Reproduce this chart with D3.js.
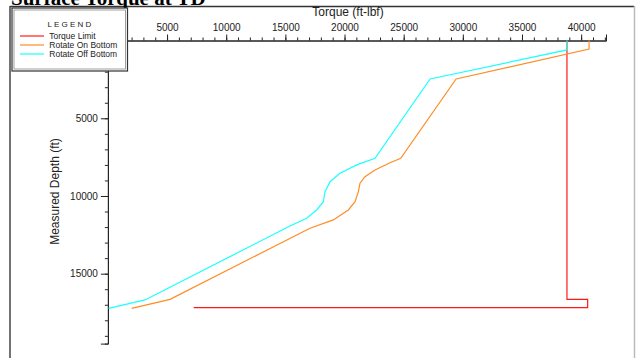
<!DOCTYPE html>
<html>
<head>
<meta charset="utf-8">
<title>Surface Torque at TD</title>
<style>
  body { margin: 0; background: #fff; }
  svg { display: block; font-family: "Liberation Sans", Arial, sans-serif; }
  .line { fill: none; stroke-width: 1.2px; }
</style>
</head>
<body>
<svg width="636" height="358"></svg>
<script src="https://d3js.org/d3.v7.min.js"></script>
<script>
// torque (ft-lbf) vs measured depth (ft)
var limitTorque = [38800, 38800, 40550, 40550, 7250];
var limitDepth  = [0, 16650, 16650, 17190, 17190];

var onTorque = [40670, 40670, 29430, 24750, 23850, 22580, 21730, 21310, 21170, 20890, 20320, 19050, 17080, 5250, 2010];
var onDepth  = [0, 540, 2470, 7570, 7860, 8330, 8760, 9180, 9720, 10370, 10900, 11540, 12080, 16650, 17230];

var offTorque = [38800, 38800, 27230, 22580, 21030, 19620, 18780, 18350, 18210, 17650, 16800, 15390, 3140, 50];
var offDepth  = [0, 600, 2470, 7570, 8000, 8540, 9080, 9720, 10370, 10900, 11430, 11930, 16690, 17230];

var xTicks = [5000, 10000, 15000, 20000, 25000, 30000, 35000, 40000];
var yTicks = [5000, 10000, 15000];
var series = [
  { name: "Torque Limit", color: "#ff1a1a", x: limitTorque, y: limitDepth },
  { name: "Rotate On Bottom", color: "#ff8c26", x: onTorque, y: onDepth },
  { name: "Rotate Off Bottom", color: "#1affff", x: offTorque, y: offDepth }
];

var svg = d3.select("svg");
var x = d3.scaleLinear().domain([0, 42100]).range([107.9, 606]);
var y = d3.scaleLinear().domain([0, 19500]).range([40.6, 343.6]);

// frame
svg.append("line").attr("x1", 10).attr("x2", 634).attr("y1", 6.5).attr("y2", 6.5)
  .attr("stroke", "#333").attr("stroke-width", 1.5);
svg.append("line").attr("x1", 10).attr("x2", 10).attr("y1", 6).attr("y2", 358)
  .attr("stroke", "#444").attr("stroke-width", 1.5);
svg.append("line").attr("x1", 634.5).attr("x2", 634.5).attr("y1", 6).attr("y2", 358)
  .attr("stroke", "#bbb").attr("stroke-width", 1.5);

// title
svg.append("text").attr("x", 11).attr("y", 5)
  .attr("font-family", "'Liberation Serif', 'Times New Roman', serif")
  .attr("font-weight", "bold").attr("font-size", "21px")
  .text("Surface Torque at TD");

// x axis on top
var xAxis = d3.axisTop(x).tickValues(d3.range(0, 42001, 1000))
  .tickSize(3).tickFormat("");
svg.append("g").attr("transform", "translate(0,40.5)").call(xAxis);
var xMajor = d3.axisTop(x).tickValues(xTicks).tickSize(6).tickPadding(4)
  .tickFormat(d3.format("d"));
var gx = svg.append("g").attr("transform", "translate(0,40.5)").call(xMajor);
gx.selectAll("text").attr("font-size", "10px").attr("fill", "#222")
  .attr("font-family", "'Liberation Sans', Arial, sans-serif");

// y axis on left
var yAxis = d3.axisLeft(y).tickValues(d3.range(0, 19001, 1000))
  .tickSize(3).tickFormat("");
svg.append("g").attr("transform", "translate(107.9,0)").call(yAxis);
var yMajor = d3.axisLeft(y).tickValues(yTicks).tickSize(7).tickPadding(3)
  .tickFormat(d3.format("d"));
var gy = svg.append("g").attr("transform", "translate(107.9,0)").call(yMajor);
gy.selectAll("text").attr("font-size", "10px").attr("fill", "#222")
  .attr("font-family", "'Liberation Sans', Arial, sans-serif");

svg.selectAll(".domain").attr("stroke", "#222");
svg.selectAll(".tick line").attr("stroke", "#222");

// axis titles
svg.append("text").attr("x", 348).attr("y", 15.5).attr("text-anchor", "middle")
  .attr("font-size", "12px").attr("fill", "#222").text("Torque (ft-lbf)");
svg.append("text").attr("transform", "translate(59,191.5) rotate(-90)")
  .attr("text-anchor", "middle").attr("font-size", "12px").attr("fill", "#222")
  .text("Measured Depth (ft)");

// series
var line = d3.line().x(function (d) { return x(d[0]); }).y(function (d) { return y(d[1]); });
series.forEach(function (s) {
  var pts = s.x.map(function (v, i) { return [v, s.y[i]]; });
  svg.append("path").attr("class", "line").attr("stroke", s.color).attr("d", line(pts));
});

// legend
var lg = svg.append("g");
lg.append("rect").attr("x", 12).attr("y", 8).attr("width", 115.5).attr("height", 63)
  .attr("fill", "#fff").attr("stroke", "#333").attr("stroke-width", 1.2);
lg.append("rect").attr("x", 14).attr("y", 10).attr("width", 111.5).attr("height", 59)
  .attr("fill", "none").attr("stroke", "#888").attr("stroke-width", 0.8);
lg.append("text").attr("x", 70.5).attr("y", 27).attr("text-anchor", "middle")
  .attr("font-size", "8px").attr("letter-spacing", "2.2px").attr("fill", "#222").text("LEGEND");
series.forEach(function (s, i) {
  var yy = 36 + i * 9;
  lg.append("line").attr("x1", 20).attr("x2", 44).attr("y1", yy).attr("y2", yy)
    .attr("stroke", s.color).attr("stroke-width", 1.2);
  lg.append("text").attr("x", 49.3).attr("y", yy + 3).attr("font-size", "8.5px")
    .attr("fill", "#222").text(s.name);
});
</script>
</body>
</html>
